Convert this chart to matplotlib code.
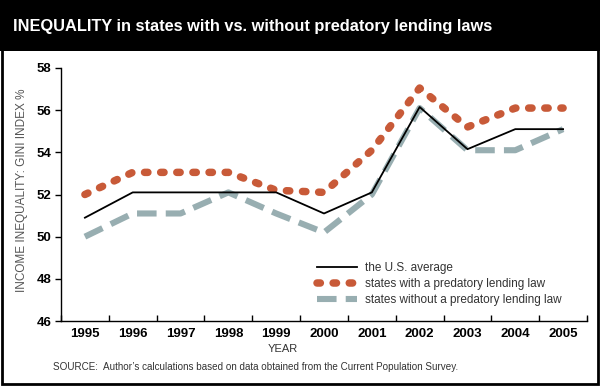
import numpy as np
import matplotlib
matplotlib.use("Agg")
import matplotlib.pyplot as plt
from matplotlib.patches import Rectangle
from matplotlib import font_manager

years = ["1995", "1996", "1997", "1998", "1999", "2000", "2001", "2002", "2003", "2004", "2005"]
us_avg = [50.9, 52.1, 52.1, 52.1, 52.1, 51.1, 52.1, 56.15, 54.15, 55.1, 55.1]
with_law = [52.0, 53.05, 53.05, 53.05, 52.2, 52.1, 54.1, 57.05, 55.2, 56.1, 56.1]
without_law = [50.0, 51.1, 51.1, 52.1, 51.1, 50.2, 52.0, 56.1, 54.1, 54.1, 55.1]
yticks = [46, 48, 50, 52, 54, 56, 58]

names = {f.name for f in font_manager.fontManager.ttflist}
narrow = "Liberation Sans Narrow" if "Liberation Sans Narrow" in names else "Liberation Sans"
print(narrow)

fig = plt.figure(figsize=(6, 3.86), dpi=100)

# title band + outer frame
fig.patches.append(Rectangle((0, 1 - 51 / 386), 1, 51 / 386, transform=fig.transFigure,
                             facecolor="black", edgecolor="none", zorder=0))
fig.patches.append(Rectangle((0.004, 0.004), 0.992, 0.992, transform=fig.transFigure,
                             facecolor="none", edgecolor="black", lw=2, zorder=5))


def fit_text(t, width_px):
    # shrink/grow font so the text spans the wanted width
    r = fig.canvas.get_renderer()
    w = t.get_window_extent(r).width
    t.set_fontsize(t.get_fontsize() * width_px / w)


title = fig.text(13 / 600, 1 - 27 / 386, "INEQUALITY in states with vs. without predatory lending laws",
                 color="white", fontsize=16, fontweight="bold", fontfamily=narrow,
                 va="center", ha="left")
fit_text(title, 479)

ax = fig.add_axes([61 / 600, 1 - 321 / 386, 526 / 600, 253 / 386])
x = np.arange(len(years))

ax.plot(x, us_avg, color="black", lw=1.3, label="the U.S. average", zorder=4)
ax.plot(x, with_law, color="#c85a38", lw=5.4, dashes=(0.45, 1.7), dash_capstyle="round",
        label="states with a predatory lending law", zorder=3)
ax.plot(x, without_law, color="#98aeb1", lw=4.4, dashes=(3.2, 1.5), dash_capstyle="butt",
        label="states without a predatory lending law", zorder=2)

ax.set_xlim(-0.5, len(years) - 0.5)
ax.set_ylim(46, 58)
ax.set_xticks(x)
ax.set_xticklabels(years, fontfamily="Liberation Sans", fontweight="bold", fontsize=9.5)
ax.set_xticks(np.arange(-0.5, len(years)), minor=True)
ax.tick_params(axis="x", which="major", length=0, pad=5)
ax.tick_params(axis="x", which="minor", direction="in", length=4, width=1)
ax.set_yticks(yticks)
ax.set_yticklabels([str(v) for v in yticks], fontfamily="Liberation Sans", fontweight="bold", fontsize=9.5)
ax.tick_params(axis="y", direction="out", length=4, width=1, pad=3)

ax.spines["top"].set_visible(False)
ax.spines["right"].set_bounds(46, 46.2)
ax.spines["left"].set_linewidth(1)
ax.spines["bottom"].set_linewidth(1)

fig.text(22 / 600, 1 - 190 / 386, "INCOME INEQUALITY: GINI INDEX %", rotation=90,
         color="#555555", fontsize=8.5, fontfamily="Liberation Sans", va="center", ha="center")
fig.text(283 / 600, 1 - 349 / 386, "YEAR", color="#333333", fontsize=8,
         fontfamily="Liberation Sans", va="center", ha="center")
src = fig.text(53 / 600, 1 - 367 / 386,
               "SOURCE:  Author\u2019s calculations based on data obtained from the Current Population Survey.",
               color="#333333", fontsize=8, fontfamily="Liberation Sans", va="center", ha="left")
fit_text(src, 410)

leg = ax.legend(loc="upper left", bbox_to_anchor=(251 / 526, 1 - (257 - 68) / 253),
                frameon=False, handlelength=3.4, handletextpad=0.7,
                labelspacing=0.35, borderaxespad=0, prop={"family": "Liberation Sans", "size": 8.5})
for t in leg.get_texts():
    t.set_color("#333333")

fig.savefig("out.png", dpi=100)
